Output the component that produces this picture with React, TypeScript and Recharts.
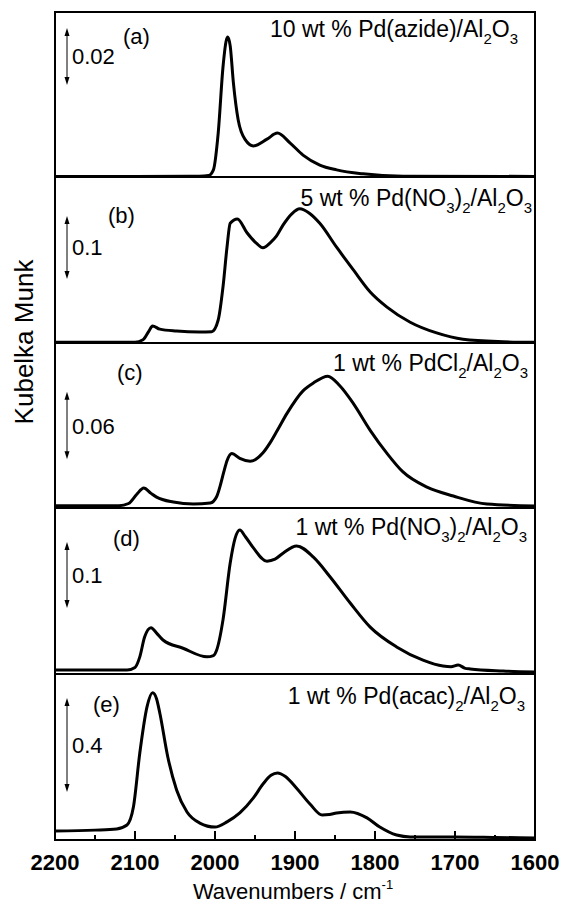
import React from 'react';
import { LineChart, Line, XAxis, YAxis, ReferenceArea, ReferenceLine } from 'recharts';

// (a) 10 wt % Pd(azide)/Al2O3
const wnA = [2200, 2100, 2020, 2008, 2002, 1996, 1990, 1986, 1984, 1981, 1977, 1971, 1962, 1952, 1935, 1922, 1906, 1890, 1869, 1848, 1815, 1765, 1600];
const kmA = [0.0002, 0.0002, 0.0003, 0.0005, 0.0025, 0.0154, 0.0386, 0.0478, 0.0491, 0.046, 0.033, 0.02, 0.013, 0.0109, 0.0133, 0.0154, 0.0119, 0.0077, 0.0042, 0.0025, 0.0011, 0.0003, 0.0002];

// (b) 5 wt % Pd(NO3)2/Al2O3
const wnB = [2200, 2100, 2090, 2083, 2078, 2069, 2048, 2019, 2004, 1996, 1990, 1985, 1981, 1972, 1960, 1948, 1940, 1931, 1923, 1915, 1904, 1894, 1882, 1869, 1848, 1827, 1806, 1785, 1756, 1723, 1690, 1640, 1600];
const kmB = [0.001, 0.001, 0.005, 0.018, 0.027, 0.022, 0.019, 0.0175, 0.018, 0.0365, 0.089, 0.152, 0.19, 0.197, 0.175, 0.158, 0.151, 0.159, 0.17, 0.187, 0.205, 0.213, 0.206, 0.19, 0.152, 0.116, 0.081, 0.057, 0.033, 0.016, 0.006, 0.002, 0.001];

// (c) 1 wt % PdCl2/Al2O3
const wnC = [2200, 2120, 2108, 2098, 2089, 2080, 2073, 2052, 2027, 2006, 1998, 1994, 1989, 1985, 1979, 1969, 1956, 1940, 1931, 1922, 1910, 1890, 1877, 1859, 1844, 1827, 1806, 1785, 1765, 1735, 1702, 1660, 1600];
const kmC = [0.002, 0.002, 0.004, 0.012, 0.0177, 0.013, 0.0097, 0.0053, 0.0035, 0.0044, 0.01, 0.0185, 0.032, 0.042, 0.0485, 0.044, 0.0415, 0.049, 0.058, 0.069, 0.084, 0.104, 0.111, 0.117, 0.1085, 0.0927, 0.069, 0.0485, 0.032, 0.0185, 0.0106, 0.0035, 0.0018];

// (d) 1 wt % Pd(NO3)2/Al2O3
const wnD = [2200, 2110, 2100, 2094, 2088, 2080, 2073, 2065, 2040, 2010, 2002, 1998, 1990, 1981, 1975, 1969, 1962, 1952, 1935, 1925, 1915, 1898, 1877, 1856, 1831, 1806, 1773, 1740, 1715, 1705, 1696, 1688, 1681, 1640, 1600];
const kmD = [0.006, 0.006, 0.01, 0.026, 0.056, 0.07, 0.062, 0.0515, 0.039, 0.026, 0.028, 0.036, 0.082, 0.168, 0.205, 0.218, 0.208, 0.191, 0.171, 0.174, 0.183, 0.194, 0.177, 0.147, 0.1075, 0.071, 0.041, 0.021, 0.012, 0.011, 0.0136, 0.009, 0.0076, 0.0045, 0.003];

// (e) 1 wt % Pd(acac)2/Al2O3
const wnE = [2200, 2150, 2123, 2110, 2102, 2094, 2085, 2078, 2073, 2069, 2059, 2048, 2035, 2019, 2000, 1985, 1969, 1952, 1940, 1930, 1922, 1912, 1898, 1881, 1866, 1857, 1848, 1831, 1810, 1794, 1773, 1756, 1702, 1650, 1600];
const kmE = [0.038, 0.042, 0.047, 0.064, 0.14, 0.37, 0.566, 0.626, 0.6, 0.54, 0.353, 0.213, 0.119, 0.072, 0.055, 0.077, 0.115, 0.179, 0.238, 0.275, 0.285, 0.27, 0.22, 0.152, 0.106, 0.108, 0.115, 0.119, 0.094, 0.055, 0.021, 0.013, 0.013, 0.011, 0.0085];

const xTicks = [2200, 2150, 2100, 2050, 2000, 1950, 1900, 1850, 1800, 1750, 1700, 1650, 1600];

// per-panel scale bars (length = value in KM units) and y ranges
const scaleValues = [0.02, 0.1, 0.06, 0.1, 0.4];
const scaleBase = [0.0323, 0.1016, 0.0432, 0.1, 0.204];
const yMax = [0.0579, 0.2635, 0.1465, 0.2515, 0.706];
const tags = ['(a)', '(b)', '(c)', '(d)', '(e)'];

// sample names, split into normal / subscript runs
type Run = { t: string; sub?: boolean };
const titles: Run[][] = [
  [{ t: '10 wt % Pd(azide)/Al' }, { t: '2', sub: true }, { t: 'O' }, { t: '3', sub: true }],
  [{ t: '5 wt % Pd(NO' }, { t: '3', sub: true }, { t: ')' }, { t: '2', sub: true }, { t: '/Al' }, { t: '2', sub: true }, { t: 'O' }, { t: '3', sub: true }],
  [{ t: '1 wt % PdCl' }, { t: '2', sub: true }, { t: '/Al' }, { t: '2', sub: true }, { t: 'O' }, { t: '3', sub: true }],
  [{ t: '1 wt % Pd(NO' }, { t: '3', sub: true }, { t: ')' }, { t: '2', sub: true }, { t: '/Al' }, { t: '2', sub: true }, { t: 'O' }, { t: '3', sub: true }],
  [{ t: '1 wt % Pd(acac)' }, { t: '2', sub: true }, { t: '/Al' }, { t: '2', sub: true }, { t: 'O' }, { t: '3', sub: true }],
];

const series = [
  [wnA, kmA],
  [wnB, kmB],
  [wnC, kmC],
  [wnD, kmD],
  [wnE, kmE],
];

const FONT = '"Liberation Sans", Arial, sans-serif';
const PLOT_LEFT = 55;
const PLOT_W = 480;
const SIDE = 30;
const panelTops = [12, 177, 343, 508, 674];
const panelHeights = [165, 166, 165, 166, 166];
const AXIS_H = 62;
const SUB_DROP = 7;

const tagPos = [
  [123, 44],
  [108, 223],
  [117, 380],
  [113, 546],
  [93, 712],
];
const titlePos = [
  [518, 37],
  [532, 206],
  [528, 371],
  [527, 535],
  [525, 704],
];

const renderRuns = (runs: Run[]) => {
  let down = false;
  return runs.map((r, i) => {
    let dy = 0;
    if (r.sub && !down) dy = SUB_DROP;
    if (!r.sub && down) dy = -SUB_DROP;
    down = !!r.sub;
    return (
      <tspan key={i} dy={dy || undefined} fontSize={r.sub ? 15 : undefined}>
        {r.t}
      </tspan>
    );
  });
};

// double-headed scale arrow with its value written to the right
const scaleArrow = (label: string) => (props: any) => {
  const { x1, y1, y2 } = props;
  const top = Math.min(y1, y2);
  const bot = Math.max(y1, y2);
  const mid = (top + bot) / 2;
  return (
    <g>
      <line x1={x1} x2={x1} y1={top + 4} y2={bot - 4} stroke="#000" strokeWidth={1} />
      <polygon points={`${x1},${top} ${x1 - 2.5},${top + 8} ${x1 + 2.5},${top + 8}`} fill="#000" />
      <polygon points={`${x1},${bot} ${x1 - 2.5},${bot - 8} ${x1 + 2.5},${bot - 8}`} fill="#000" />
      <text x={x1 + 5} y={mid + 8} fontSize={22} fontFamily={FONT} fill="#000">
        {label}
      </text>
    </g>
  );
};

const WnTick = (props: any) => {
  const { x, y, payload } = props;
  const major = payload.value % 100 === 0;
  return (
    <g>
      <line x1={x} x2={x} y1={y} y2={y - (major ? 9 : 5)} stroke="#000" strokeWidth={2} />
      {major && (
        <text x={x} y={y + 30} textAnchor="middle" fontSize={22} fontWeight="bold" fontFamily={FONT} fill="#000">
          {payload.value}
        </text>
      )}
    </g>
  );
};

const Panel = ({ idx }: { idx: number }) => {
  const [wn, km] = series[idx];
  const rows = wn.map((w, i) => ({ wn: w, km: km[i] }));
  const last = idx === series.length - 1;
  const h = panelHeights[idx];
  return (
    <div style={{ position: 'absolute', left: PLOT_LEFT - SIDE, top: panelTops[idx] - 1 }}>
      <LineChart
        width={PLOT_W + 2 * SIDE}
        height={h + 1 + (last ? AXIS_H : 1)}
        data={rows}
        margin={{ top: 1, right: SIDE, left: SIDE, bottom: last ? 0 : 1 }}
      >
        <XAxis
          dataKey="wn"
          type="number"
          domain={[1600, 2200]}
          reversed
          ticks={xTicks}
          interval={0}
          hide={!last}
          height={AXIS_H}
          axisLine={false}
          tickLine={false}
          tickSize={0}
          tickMargin={0}
          tick={<WnTick />}
        />
        <YAxis type="number" domain={[0, yMax[idx]]} hide />
        <ReferenceArea x1={2200} x2={1600} y1={0} y2={yMax[idx]} fill="none" stroke="#000" strokeWidth={2} />
        <ReferenceLine
          segment={[
            { x: 2185, y: scaleBase[idx] },
            { x: 2185, y: scaleBase[idx] + scaleValues[idx] },
          ]}
          shape={scaleArrow(String(scaleValues[idx]))}
        />
        <Line
          type="monotone"
          dataKey="km"
          stroke="#000"
          strokeWidth={3}
          strokeLinejoin="round"
          dot={false}
          activeDot={false}
          isAnimationActive={false}
        />
      </LineChart>
    </div>
  );
};

export default function App() {
  return (
    <div style={{ position: 'absolute', left: 0, top: 0, width: 561, height: 903, background: '#fff' }}>
      {series.map((_, i) => (
        <Panel key={i} idx={i} />
      ))}
      <svg
        width={561}
        height={903}
        style={{ position: 'absolute', left: 0, top: 0, pointerEvents: 'none' }}
        fontFamily={FONT}
        fill="#000"
      >
        {tags.map((t, i) => (
          <text key={t} x={tagPos[i][0]} y={tagPos[i][1]} fontSize={22}>
            {t}
          </text>
        ))}
        {titles.map((runs, i) => (
          <text key={i} x={titlePos[i][0]} y={titlePos[i][1]} fontSize={23} textAnchor="end">
            {renderRuns(runs)}
          </text>
        ))}
        <text x={33} y={342} fontSize={26} textAnchor="middle" transform="rotate(-90, 33, 342)">
          Kubelka Munk
        </text>
        <text x={293} y={899} fontSize={22} textAnchor="middle">
          Wavenumbers / cm<tspan fontSize={13} dy={-10}>-1</tspan>
        </text>
      </svg>
    </div>
  );
}
